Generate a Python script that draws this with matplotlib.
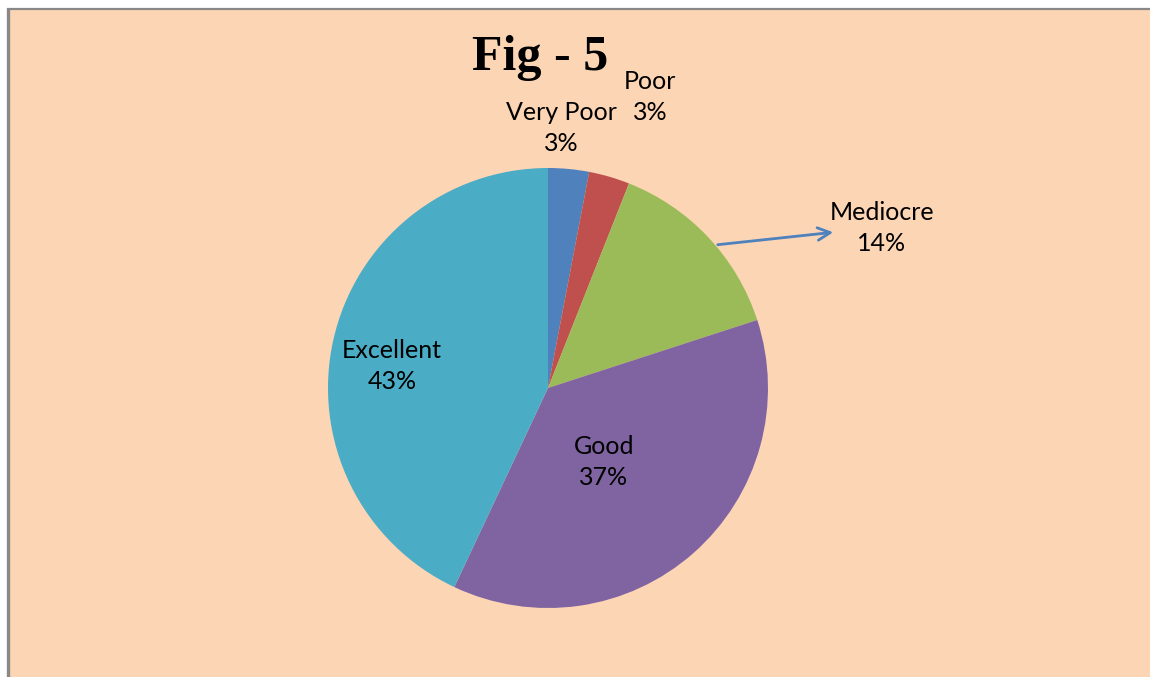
import matplotlib
matplotlib.use("Agg")
import matplotlib.pyplot as plt
from matplotlib.patches import Rectangle

categories = ["Very Poor", "Poor", "Mediocre", "Good", "Excellent"]
shares = [3, 3, 14, 37, 43]
colors = ["#4F81BD", "#C0504D", "#9BBB59", "#8064A2", "#4BACC6"]

W, H = 1150, 677
BG = "#FCD5B5"

# label centres in pixel coords (x, y from top)
label_pos = {
    "Very Poor": (561, 128),
    "Poor": (650, 97),
    "Mediocre": (882, 228),
    "Good": (604, 462),
    "Excellent": (392, 366),
}

fig = plt.figure(figsize=(W / 100, H / 100), dpi=100)
fig.patch.set_facecolor("white")
ax = fig.add_axes([0, 0, 1, 1])

ax.pie(shares, colors=colors, startangle=90, counterclock=False,
       center=(548, H - 388), radius=220, frame=False,
       wedgeprops={"linewidth": 0})
ax.set_xlim(0, W)
ax.set_ylim(0, H)
ax.set_aspect("auto")
ax.set_frame_on(False)
ax.set_xticks([])
ax.set_yticks([])

ax.add_patch(Rectangle((8, -10), W + 10, H - 9 + 10, facecolor=BG,
                       edgecolor="none", zorder=0, clip_on=False))
ax.plot([7.5, 7.5], [-5, H - 8], color="#888888", lw=2.4, zorder=1,
        solid_capstyle="butt", clip_on=False)
ax.plot([7, W + 10], [H - 8.5, H - 8.5], color="#888888", lw=1.6, zorder=1,
        solid_capstyle="butt", clip_on=False)

font = ["Lato", "DejaVu Sans"]
for name, val in zip(categories, shares):
    px, py = label_pos[name]
    ax.text(px, H - py, f"{name}\n{val}%", ha="center", va="center",
            fontsize=18, family=font, linespacing=1.45, color="black", zorder=5)

ax.annotate("", xy=(836, H - 232), xytext=(715, H - 245),
            arrowprops={"arrowstyle": "->,head_length=0.9,head_width=0.45",
                        "color": "#4F81BD", "lw": 2}, zorder=4)

ax.text(540, H - 58, "Fig - 5", ha="center", va="center", fontsize=36,
        family=["Liberation Serif"], fontweight="bold", zorder=5)

fig.savefig("out.png", dpi=100, facecolor="white")
